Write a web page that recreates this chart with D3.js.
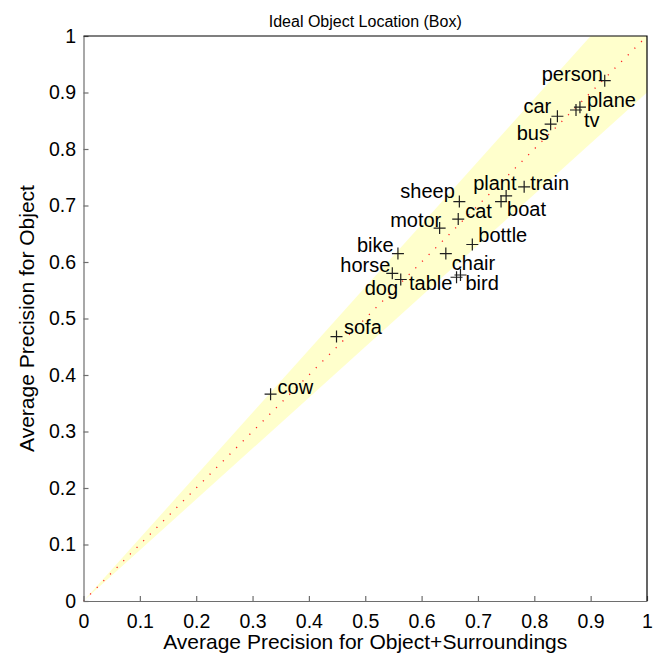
<!DOCTYPE html>
<html>
<head>
<meta charset="utf-8">
<script src="https://cdn.jsdelivr.net/npm/d3@7"></script>
<style>
  html, body { margin: 0; padding: 0; background: #fff; }
  svg { display: block; font-family: "Liberation Sans", Arial, Helvetica, sans-serif; }
</style>
</head>
<body>
<svg id="chart" width="664" height="655"></svg>
<script>
// Per-class average precision: object+surroundings (x) vs object only (y)
const classes = ["person", "plane", "tv", "car", "bus", "sheep", "plant", "boat", "train", "cat",
                 "motor", "bottle", "chair", "bike", "horse", "dog", "table", "bird", "sofa", "cow"];
const apSurround = [0.925, 0.881, 0.874, 0.841, 0.829, 0.667, 0.750, 0.741, 0.782, 0.665,
                    0.632, 0.690, 0.643, 0.558, 0.548, 0.563, 0.662, 0.669, 0.449, 0.332];
const apObject   = [0.921, 0.874, 0.869, 0.858, 0.844, 0.707, 0.717, 0.707, 0.733, 0.676,
                    0.660, 0.631, 0.615, 0.615, 0.580, 0.569, 0.573, 0.577, 0.468, 0.366];

const xTicks = [0, 0.1, 0.2, 0.3, 0.4, 0.5, 0.6, 0.7, 0.8, 0.9, 1];
const yTicks = [0, 0.1, 0.2, 0.3, 0.4, 0.5, 0.6, 0.7, 0.8, 0.9, 1];

// Shaded tolerance cone around the diagonal (ratio of the two APs)
const bandRatio = 0.9;

// Label placement relative to each marker, in pixels
const labelOffset = {
  person: [-63, 0], plane: [7, -0.5], tv: [8, 16.5], car: [-34, -3], bus: [-34, 16],
  sheep: [-59, -3.5], plant: [-33, -5.5], boat: [6, 14.5], train: [6, 3.5], cat: [7, -1],
  motor: [-49.5, -1.5], bottle: [6, -2], chair: [6, 16.5], bike: [-41, -1.5], horse: [-52, -1.5],
  dog: [-36, 15], table: [-47.5, 13], bird: [5, 15], sofa: [7.5, -2.5], cow: [7, -0.5]
};

const svg = d3.select("#chart");
const x = d3.scaleLinear().domain([0, 1]).range([83.5, 647]);
const y = d3.scaleLinear().domain([0, 1]).range([601, 36]);

// Yellow cone
const band = [[0, 0], [1, bandRatio], [1, 1], [bandRatio, 1]];
svg.append("path")
  .attr("d", d3.line().x(d => x(d[0])).y(d => y(d[1]))(band) + "Z")
  .attr("fill", "#ffffcc");

// Dotted red identity line
svg.append("line")
  .attr("x1", x(0)).attr("y1", y(0)).attr("x2", x(1)).attr("y2", y(1))
  .attr("stroke", "#ff2020").attr("stroke-width", 1.3)
  .attr("stroke-dasharray", "1.2 8.2");

const pts = classes.map((c, i) => ({ name: c, sx: apSurround[i], oy: apObject[i] }));

// Plus markers
svg.append("g").selectAll("path").data(pts).join("path")
  .attr("d", d => {
    const px = x(d.sx), py = y(d.oy), h = 6;
    return `M${px - h},${py}H${px + h}M${px},${py - h}V${py + h}`;
  })
  .attr("stroke", "#1e1e1e").attr("stroke-width", 1.2).attr("fill", "none");

// Class names
svg.append("g").selectAll("text").data(pts).join("text")
  .attr("x", d => x(d.sx) + labelOffset[d.name][0])
  .attr("y", d => y(d.oy) + labelOffset[d.name][1])
  .attr("font-size", 20).attr("fill", "#000")
  .text(d => d.name);

// Axes
const fmt = d => String(d);
const gx = svg.append("g").attr("transform", `translate(0,${y(0)})`)
  .call(d3.axisBottom(x).tickValues(xTicks).tickFormat(fmt)
    .tickSizeInner(-5).tickSizeOuter(0).tickPadding(13));
const gy = svg.append("g").attr("transform", `translate(${x(0)},0)`)
  .call(d3.axisLeft(y).tickValues(yTicks).tickFormat(fmt)
    .tickSizeInner(-5).tickSizeOuter(0).tickPadding(7.5));
[gx, gy].forEach(g => {
  g.select(".domain").attr("stroke", "#6e6e6e").attr("stroke-width", 1.2);
  g.selectAll(".tick line").attr("stroke", "#6e6e6e").attr("stroke-width", 1.2);
  g.selectAll(".tick text").attr("font-size", 19.5).attr("fill", "#000")
    .attr("font-family", "'Liberation Sans', Arial, Helvetica, sans-serif");
});

// Box top and right edges
svg.append("path")
  .attr("d", `M${x(0)},${y(1)}H${x(1)}V${y(0)}`)
  .attr("stroke", "#000").attr("stroke-width", 1.2).attr("fill", "none");

// Title and axis labels
svg.append("text")
  .attr("x", (x(0) + x(1)) / 2).attr("y", 27)
  .attr("text-anchor", "middle").attr("font-size", 16)
  .text("Ideal Object Location (Box)");
svg.append("text")
  .attr("x", (x(0) + x(1)) / 2).attr("y", 649)
  .attr("text-anchor", "middle").attr("font-size", 21)
  .text("Average Precision for Object+Surroundings");
svg.append("text")
  .attr("transform", `translate(33.5,${(y(0) + y(1)) / 2}) rotate(-90)`)
  .attr("text-anchor", "middle").attr("font-size", 21)
  .text("Average Precision for Object");
</script>
</body>
</html>
